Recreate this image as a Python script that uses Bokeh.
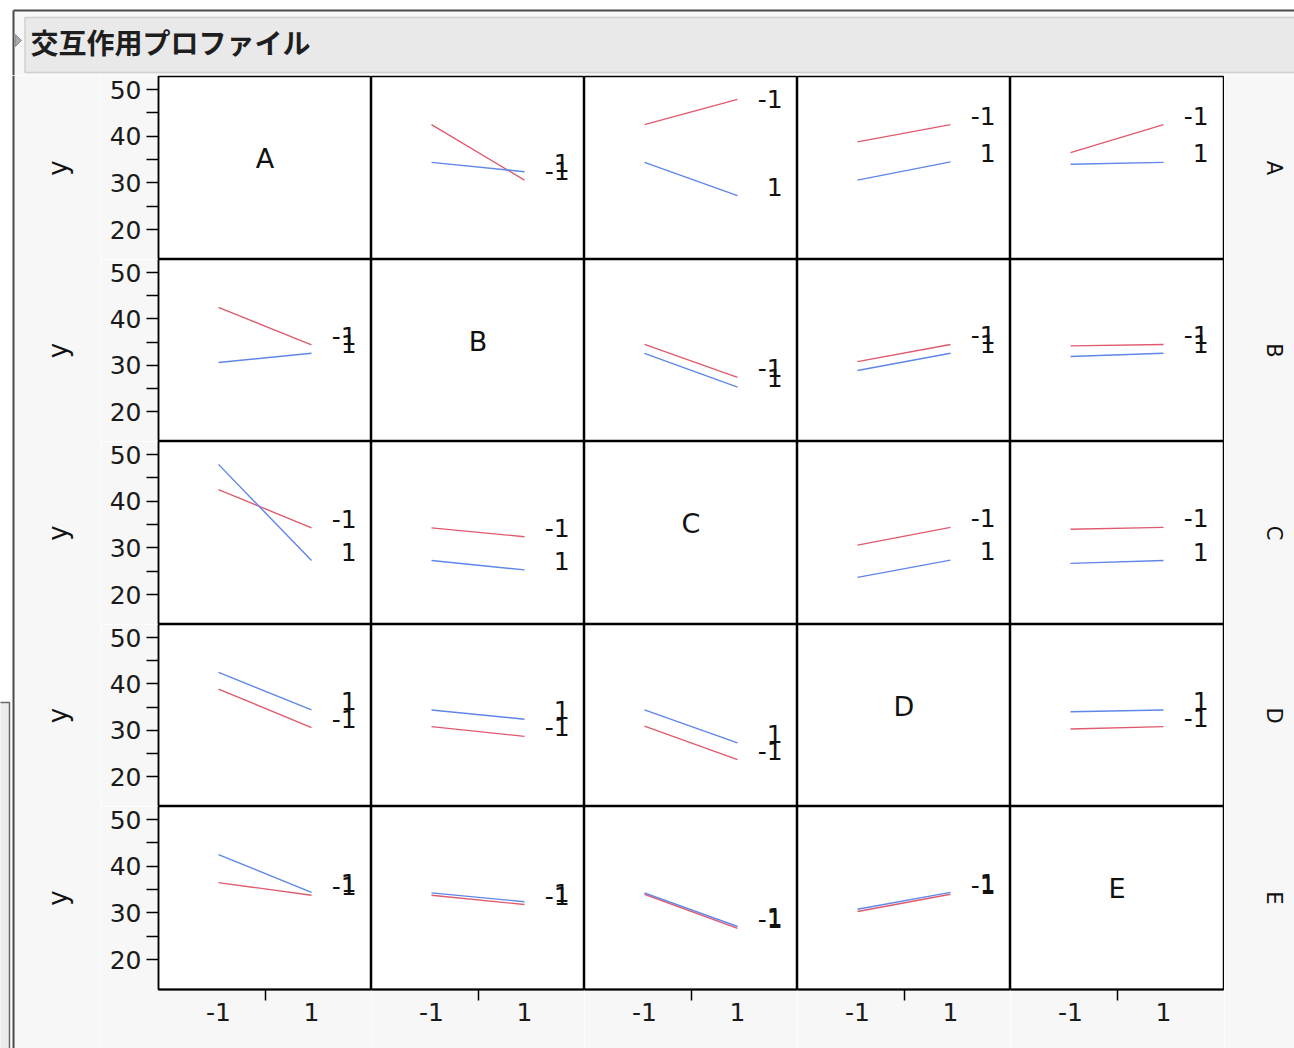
import math
from bokeh.plotting import figure
from bokeh.layouts import gridplot, column, row
from bokeh.models import FixedTicker, Range1d
from bokeh.core.properties import value
from bokeh.embed import file_html
from bokeh.resources import INLINE

# ---------------- data ----------------
title_text = "交互作用プロファイル"
factors = ["A", "B", "C", "D", "E"]
level_labels = ["-1", "1"]
x_levels = [-1, 1]
response_name = "y"
y_ticks = [20, 30, 40, 50]
y_minor_ticks = [25, 35, 45]

# row factor level -1 (red) and +1 (blue); values at column factor = -1 and +1
red_A = {"B": [42.5, 30.6], "C": [42.5, 47.9], "D": [38.8, 42.5], "E": [36.5, 42.5]}
blue_A = {"B": [34.4, 32.4], "C": [34.4, 27.3], "D": [30.6, 34.5], "E": [34.0, 34.4]}
red_B = {"A": [42.5, 34.4], "C": [34.5, 27.4], "D": [30.8, 34.5], "E": [34.2, 34.5]}
blue_B = {"A": [30.6, 32.6], "C": [32.6, 25.3], "D": [28.9, 32.6], "E": [31.9, 32.6]}
red_C = {"A": [42.5, 34.3], "B": [34.3, 32.4], "D": [30.6, 34.4], "E": [34.0, 34.4]}
blue_C = {"A": [47.9, 27.3], "B": [27.3, 25.3], "D": [23.7, 27.4], "E": [26.7, 27.3]}
red_D = {"A": [38.9, 30.6], "B": [30.8, 28.7], "C": [30.9, 23.7], "E": [30.3, 30.8]}
blue_D = {"A": [42.5, 34.4], "B": [34.4, 32.4], "C": [34.4, 27.3], "E": [34.0, 34.4]}
red_E = {"A": [36.5, 33.8], "B": [33.8, 31.8], "C": [34.0, 26.7], "D": [30.3, 34.0]}
blue_E = {"A": [42.5, 34.4], "B": [34.3, 32.4], "C": [34.3, 27.1], "D": [30.8, 34.4]}

red_data = {"A": red_A, "B": red_B, "C": red_C, "D": red_D, "E": red_E}
blue_data = {"A": blue_A, "B": blue_B, "C": blue_C, "D": blue_D, "E": blue_E}

# ---------------- style / layout ----------------
RED = "#e05a6e"
BLUE = "#5f86e8"
PAGE_BG = "#f7f7f7"
FONT = "DejaVu Sans"
XR = (-2.29, 2.29)
YR = (13.6, 52.8)
LABEL_X = 1.97
LABEL_Y_MAX = 46.0   # level labels are kept inside the frame
DIAG_Y = 35.2
ROW_H = [183, 182, 183, 182, 183]
COL_W = 213
AX_W = 58
AX_H = 59
HDR_H = 75
LEFT_W = 100
RIGHT_W = 70
TOTAL_W = 1294


def blank(w, h, xr, yr):
    f = figure(width=w, height=h, x_range=Range1d(*xr), y_range=Range1d(*yr),
               output_backend="svg", toolbar_location=None, tools="",
               x_axis_location=None, y_axis_location=None,
               min_border_left=0, min_border_right=0, min_border_top=0, min_border_bottom=0,
               background_fill_color="white", border_fill_color="white",
               outline_line_color=None)
    f.grid.visible = False
    return f


# header (coordinates = page pixels, top-down)
hdr = blank(TOTAL_W, HDR_H, (0, TOTAL_W), (HDR_H, 0))
hdr.quad(left=13, right=TOTAL_W, top=10, bottom=HDR_H, fill_color=PAGE_BG, line_color=None)
hdr.quad(left=24.5, right=TOTAL_W + 10, top=17, bottom=72, fill_color="#e9e9e9",
         line_color="#d0d0d0", line_width=1.5)
hdr.segment(x0=[13, 13], y0=[10, 10], x1=[TOTAL_W, 13], y1=[10, HDR_H],
            line_color="#4a4a4a", line_width=2)
hdr.patch(x=[15, 21, 15], y=[34, 40, 46], fill_color="#a8a8a8", line_color="#909090")
hdr.text(x=[30], y=[41], text=[title_text], text_font=value("Noto Sans CJK JP"),
         text_font_style="bold", text_font_size="28px", text_align="left",
         text_baseline="middle", text_color="#1e1e1e")

# panels
strip_h = sum(ROW_H) + 1 + AX_H
rows = []
for r, rf in enumerate(factors):
    cells = []
    for c, cf in enumerate(factors):
        w = COL_W + (AX_W if c == 0 else 0) + (1 if c == 4 else 0)
        h = ROW_H[r] + (1 if r == 0 else 0) + (AX_H if r == 4 else 0)
        p = figure(width=w, height=h, x_range=Range1d(*XR), y_range=Range1d(*YR),
                   output_backend="svg", toolbar_location=None, tools="",
                   x_axis_location="below" if r == 4 else None,
                   y_axis_location="left" if c == 0 else None,
                   min_border_left=AX_W if c == 0 else 0,
                   min_border_right=1 if c == 4 else 0,
                   min_border_top=1 if r == 0 else 0,
                   min_border_bottom=AX_H if r == 4 else 0,
                   background_fill_color="white", border_fill_color=PAGE_BG,
                   outline_line_color="black", outline_line_width=1.5)
        p.grid.visible = False
        if c == 0:
            ax = p.yaxis[0]
            ax.ticker = FixedTicker(ticks=y_ticks, minor_ticks=y_minor_ticks)
            ax.major_tick_out = 12
            ax.major_tick_in = 0
            ax.minor_tick_out = 12
            ax.minor_tick_in = 0
            ax.major_label_standoff = 5
            ax.major_label_text_font = FONT
            ax.major_label_text_font_size = "25px"
            ax.major_label_text_color = "#1a1a1a"
            ax.axis_line_color = "black"
            ax.axis_line_width = 1.5
            ax.major_tick_line_color = "black"
            ax.minor_tick_line_color = "black"
            ax.major_tick_line_width = 1.5
            ax.minor_tick_line_width = 1.5
        if r == 4:
            ax = p.xaxis[0]
            ax.ticker = FixedTicker(ticks=x_levels, minor_ticks=[0])
            ax.major_label_overrides = {x_levels[0]: level_labels[0], x_levels[1]: level_labels[1]}
            ax.major_tick_out = 0
            ax.major_tick_in = 0
            ax.minor_tick_out = 11
            ax.minor_tick_in = 0
            ax.major_label_standoff = 2
            ax.major_label_text_font = FONT
            ax.major_label_text_font_size = "25px"
            ax.major_label_text_color = "#1a1a1a"
            ax.axis_line_color = "black"
            ax.axis_line_width = 2
            ax.minor_tick_line_color = "black"
            ax.minor_tick_line_width = 1.5
        if r == c:
            p.text(x=[0], y=[DIAG_Y], text=[rf], text_font=value(FONT), text_font_size="27px",
                   text_align="center", text_baseline="middle", text_color="#111111")
        else:
            reds = red_data[rf][cf]
            blues = blue_data[rf][cf]
            p.line(x=x_levels, y=reds, line_color=RED, line_width=1.4)
            p.line(x=x_levels, y=blues, line_color=BLUE, line_width=1.4)
            p.text(x=[LABEL_X, LABEL_X],
                   y=[min(reds[1], LABEL_Y_MAX), min(blues[1], LABEL_Y_MAX)],
                   text=level_labels, y_offset=-9,
                   text_font=value(FONT), text_font_size="25px", text_align="right",
                   text_baseline="middle", text_color="#111111")
        cells.append(p)
    rows.append(cells)

grid = gridplot(rows, toolbar_location=None)

# row centres in strip coordinates (top-down pixels)
tops = []
acc = 1
for hh in ROW_H:
    tops.append(acc)
    acc += hh
centers = [t + hh / 2 for t, hh in zip(tops, ROW_H)]

left = blank(LEFT_W, strip_h, (0, LEFT_W), (strip_h, 0))
left.quad(left=13, right=LEFT_W, top=0, bottom=strip_h, fill_color=PAGE_BG, line_color=None)
left.quad(left=-2, right=9, top=627, bottom=strip_h + 5, fill_color="#ececec",
          line_color="#6a6a6a", line_width=1.5)
left.segment(x0=[13], y0=[0], x1=[13], y1=[strip_h], line_color="#4a4a4a", line_width=2)
left.text(x=[57] * 5, y=centers, text=[response_name] * 5, angle=math.pi / 2,
          text_font=value(FONT), text_font_size="26px", text_align="center",
          text_baseline="middle", text_color="#111111")

right = blank(RIGHT_W, strip_h, (0, RIGHT_W), (strip_h, 0))
right.quad(left=0, right=RIGHT_W, top=0, bottom=strip_h, fill_color=PAGE_BG, line_color=None)
right.text(x=[49] * 5, y=centers, text=factors, angle=-math.pi / 2,
           text_font=value(FONT), text_font_size="21px", text_align="center",
           text_baseline="middle", text_color="#111111")

layout = column(hdr, row(left, grid, right))

open("out.html", "w").write(file_html(layout, INLINE))
